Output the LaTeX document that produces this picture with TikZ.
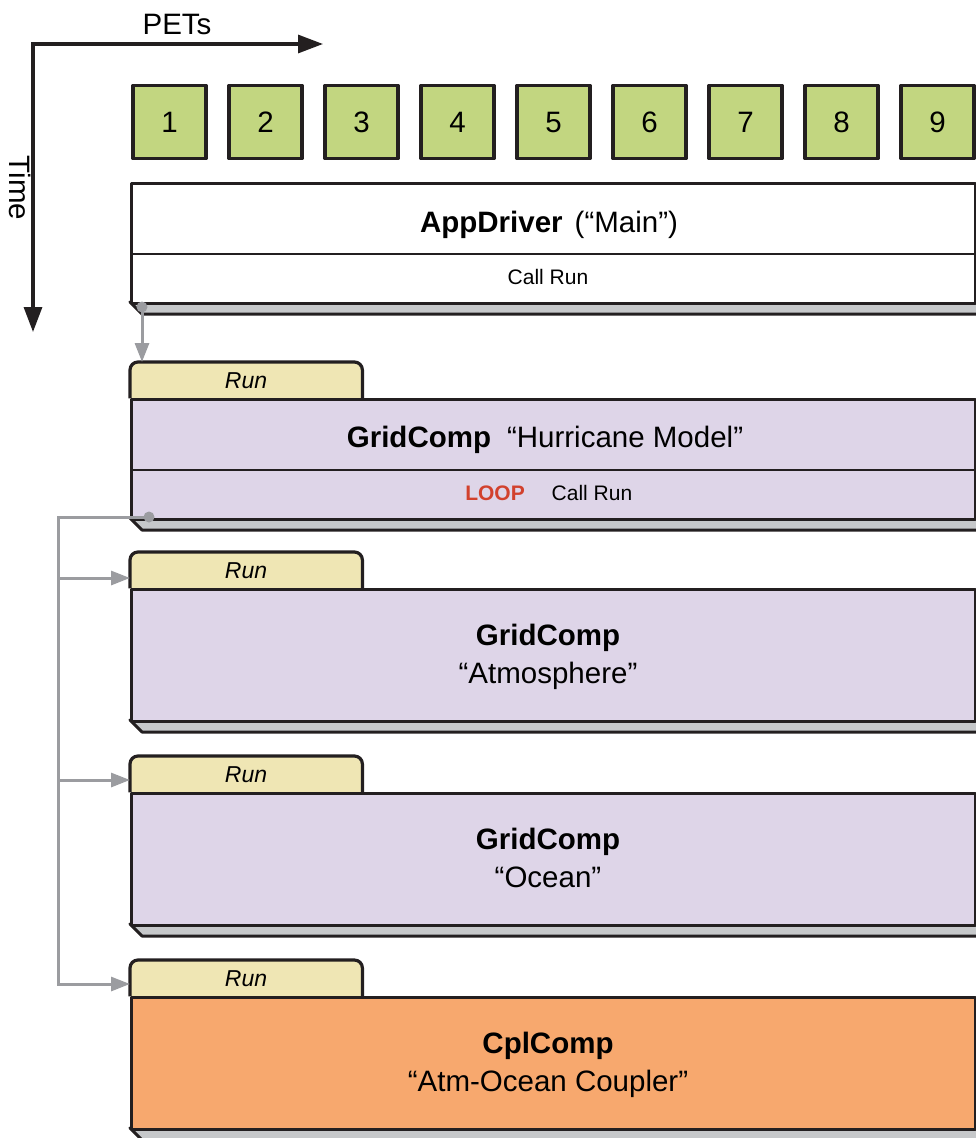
\documentclass[tikz,border=0pt]{standalone}
\usepackage{fontspec}
\setmainfont{Liberation Sans}
\usetikzlibrary{arrows.meta,calc}
\definecolor{ink}{HTML}{231F20}
\definecolor{petgreen}{HTML}{C2D680}
\definecolor{lav}{HTML}{DED5E8}
\definecolor{tabyellow}{HTML}{EFE6B4}
\definecolor{cplorange}{HTML}{F7A86E}
\definecolor{shadowgray}{HTML}{C6C8CA}
\definecolor{conngray}{HTML}{9B9CA0}
\definecolor{loopred}{HTML}{D2412D}
\newcommand\BigTxt{\fontsize{29.5}{38}\selectfont}
\newcommand\SmallTxt{\fontsize{21}{25}\selectfont}
\newcommand\RunTxt{\fontsize{23}{27}\selectfont}
\begin{document}
\begin{tikzpicture}[x=1pt,y=-1pt,
  outline/.style={draw=ink, line width=3.2pt, line join=round},
  pet/.style={outline, fill=petgreen, minimum width=73pt, minimum height=73pt, inner sep=0pt, font=\BigTxt},
  compbox/.style={outline, minimum width=844pt, anchor=north west, inner sep=0pt},
  tabnode/.style={minimum width=232pt, minimum height=36pt, anchor=north west, inner sep=0pt},
  shadowbox/.style={draw=ink, line width=3pt, fill=shadowgray, line join=round},
  divider/.style={draw=ink, line width=2.8pt},
  tabshape/.style={outline, fill=tabyellow, rounded corners=8pt},
  lbl/.style={inner sep=0pt, anchor=base},
  conn/.style={draw=conngray, line width=3pt},
  connarrow/.style={conn, -{Triangle[length=19pt,width=14pt]}},
  axis/.style={draw=ink, line width=3.2pt, line join=miter, {Triangle[length=25pt,width=18pt]}-{Triangle[length=25pt,width=18pt]}},
  dot/.style={fill=conngray}
]
\useasboundingbox (0,0) rectangle (976,1138);
\clip (0,0) rectangle (976,1138);

% axes
\coordinate (origin) at (33,44);
\coordinate (petsend) at (323,44);
\coordinate (timeend) at (33,332);
\draw[axis] (petsend) -- (origin) -- (timeend);
\node[lbl, font=\BigTxt] (pets) at (177,34) {PETs};
\node[font=\BigTxt, rotate=-90, inner sep=0pt] (time) at (20,188) {Time};

% PETs
\foreach \i in {1,...,9}
  \node[pet] (pet\i) at ({169.5+96*(\i-1)},122) {\i};

% AppDriver
\draw[shadowbox] (130,302) -- (142,314) -- (1000,314) -- (1000,302) -- cycle;
\node[compbox, fill=white, minimum height=120pt] (app) at (130,182) {};
\draw[divider] (app.west |- 0,254) -- (app.east |- 0,254);
\node[lbl, font=\BigTxt] (apptitle) at (549,232) {\textbf{AppDriver}\hspace{12pt}(“Main”)};
\node[lbl, font=\SmallTxt] (appcall) at (548,284) {Call Run};
\coordinate (appdot) at (142,307);

% Hurricane
\draw[shadowbox] (130,518) -- (142,530) -- (1000,530) -- (1000,518) -- cycle;
\node[tabnode] (hurrtab) at (130,362) {};
\draw[tabshape] (hurrtab.south west) -- (hurrtab.north west) -- (hurrtab.north east) -- (hurrtab.south east);
\node[lbl, font=\RunTxt] (hurrrun) at (246,388) {\itshape Run};
\node[compbox, fill=lav, minimum height=120pt] (hurr) at (130,398) {};
\draw[divider] (hurr.west |- 0,470) -- (hurr.east |- 0,470);
\node[lbl, font=\BigTxt] (hurrtitle) at (545,447) {\textbf{GridComp}\hspace{16pt}“Hurricane Model”};
\node[lbl, font=\SmallTxt, text=loopred] (loop) at (495,500) {\bfseries LOOP};
\node[lbl, font=\SmallTxt] (hurrcall) at (592,500) {Call Run};
\coordinate (hurrdot) at (149,517);

% Atmosphere
\draw[shadowbox] (130,720) -- (142,732) -- (1000,732) -- (1000,720) -- cycle;
\node[tabnode] (atmtab) at (130,552) {};
\draw[tabshape] (atmtab.south west) -- (atmtab.north west) -- (atmtab.north east) -- (atmtab.south east);
\node[lbl, font=\RunTxt] (atmrun) at (246,578) {\itshape Run};
\node[compbox, fill=lav, minimum height=132pt] (atm) at (130,588) {};
\node[lbl, font=\BigTxt, align=center] (atmtitle) at (548,683) {\textbf{GridComp}\\“Atmosphere”};

% Ocean
\draw[shadowbox] (130,924) -- (142,936) -- (1000,936) -- (1000,924) -- cycle;
\node[tabnode] (ocntab) at (130,756) {};
\draw[tabshape] (ocntab.south west) -- (ocntab.north west) -- (ocntab.north east) -- (ocntab.south east);
\node[lbl, font=\RunTxt] (ocnrun) at (246,782) {\itshape Run};
\node[compbox, fill=lav, minimum height=132pt] (ocn) at (130,792) {};
\node[lbl, font=\BigTxt, align=center] (ocntitle) at (548,887) {\textbf{GridComp}\\“Ocean”};

% Coupler
\draw[shadowbox] (130,1128) -- (142,1140) -- (1000,1140) -- (1000,1128) -- cycle;
\node[tabnode] (cpltab) at (130,960) {};
\draw[tabshape] (cpltab.south west) -- (cpltab.north west) -- (cpltab.north east) -- (cpltab.south east);
\node[lbl, font=\RunTxt] (cplrun) at (246,986) {\itshape Run};
\node[compbox, fill=cplorange, minimum height=132pt] (cpl) at (130,996) {};
\node[lbl, font=\BigTxt, align=center] (cpltitle) at (548,1091) {\textbf{CplComp}\\“Atm-Ocean Coupler”};

% connectors
\coordinate (atmin) at ($(atmtab.north west)+(0,26)$);
\coordinate (ocnin) at ($(ocntab.north west)+(0,24)$);
\coordinate (cplin) at ($(cpltab.north west)+(0,24)$);
\coordinate (bustop) at (58,517);
\draw[connarrow] (appdot) -- (appdot |- hurrtab.north);
\fill[dot] (appdot) circle (5.5pt);
\draw[connarrow] (hurrdot) -- (bustop) |- (cplin);
\draw[connarrow] (bustop |- atmin) -- (atmin);
\draw[connarrow] (bustop |- ocnin) -- (ocnin);
\fill[dot] (hurrdot) circle (5.5pt);
\end{tikzpicture}
\end{document}
